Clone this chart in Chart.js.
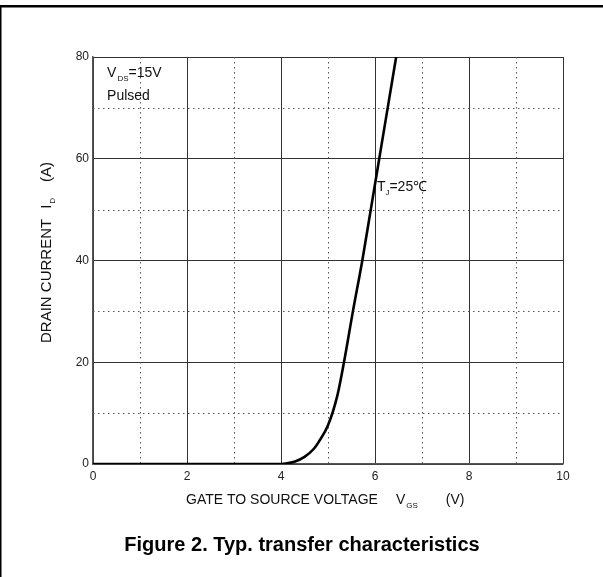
<!DOCTYPE html>
<html>
<head>
<meta charset="utf-8">
<script src="https://cdn.jsdelivr.net/npm/chart.js@4/dist/chart.umd.min.js"></script>
<style>
html, body { margin: 0; padding: 0; background: #fff; }
</style>
</head>
<body>
<canvas id="transfer_chart" width="603" height="577"></canvas>
<script>
// VGS (V) vs ID (A)
var vgs = [0, 3.9, 4.1, 4.3, 4.5, 4.7, 4.8, 5.0, 5.2, 5.34, 5.53, 5.73, 5.91, 6.09, 6.27, 6.45];
var drain_current = [0, 0, 0.1, 0.5, 1.4, 3.0, 4.3, 7.6, 13.5, 20, 30, 40, 50, 60, 70, 80];

var x_ticks = [0, 2, 4, 6, 8, 10];
var y_ticks = [0, 20, 40, 60, 80];
var x_minor = [1, 3, 5, 7, 9];
var y_minor = [10, 30, 50, 70];

var font_family = "Arial, 'Liberation Sans', sans-serif";

// draws text pieces, some as subscripts
function drawParts(ctx, x, y, parts, size){
    var cx = x;
    size = size || 14;
    for(var i = 0; i < parts.length; i++){
        var p = parts[i];
        if(p.sub){
            ctx.font = '8px ' + font_family;
            ctx.fillText(p.text, cx, y + 6);
        } else {
            ctx.font = size + 'px ' + font_family;
            ctx.fillText(p.text, cx, y);
        }
        cx += ctx.measureText(p.text).width + (p.gap || 0);
    }
}

var textPlugin = {
    id: 'textPlugin',
    beforeDatasetsDraw(chart){
        const ctx = chart.ctx;
        const xs = chart.scales.x;
        const ys = chart.scales.y;
        const area = chart.chartArea;
        ctx.save();
        ctx.strokeStyle = '#555';
        ctx.lineWidth = 1;
        ctx.setLineDash([1.5, 3.5]);
        for(var i in x_minor){
            var px = Math.round(xs.getPixelForValue(x_minor[i])) + 0.5;
            ctx.beginPath();
            ctx.moveTo(px, area.top);
            ctx.lineTo(px, area.bottom);
            ctx.stroke();
        }
        for(var j in y_minor){
            var py = Math.round(ys.getPixelForValue(y_minor[j])) + 0.5;
            ctx.beginPath();
            ctx.moveTo(area.left, py);
            ctx.lineTo(area.right, py);
            ctx.stroke();
        }
        ctx.restore();
    },
    afterDraw(chart){
        const ctx = chart.ctx;
        const xs = chart.scales.x;
        const ys = chart.scales.y;
        ctx.save();
        // outer frame (top and left only)
        ctx.fillStyle = '#000';
        ctx.fillRect(0, 5, 603, 2.5);
        ctx.fillRect(0, 5, 1.5, 572);

        ctx.fillStyle = '#111';
        ctx.textBaseline = 'middle';
        ctx.textAlign = 'left';

        // annotations
        drawParts(ctx, xs.getPixelForValue(0.3), ys.getPixelForValue(76.9), [
            {text: 'V', gap: 1}, {text: 'DS', sub: true}, {text: '=15V'}
        ]);
        ctx.font = '14px ' + font_family;
        ctx.fillText('Pulsed', xs.getPixelForValue(0.3), ys.getPixelForValue(72.3));
        drawParts(ctx, xs.getPixelForValue(6.04), ys.getPixelForValue(54.4), [
            {text: 'T', gap: 0}, {text: 'J', sub: true}, {text: '=25\u2103'}
        ]);

        // x axis title
        drawParts(ctx, 186, 500, [
            {text: 'GATE TO SOURCE VOLTAGE', gap: 18}, {text: 'V', gap: 1},
            {text: 'GS', sub: true, gap: 28}, {text: '(V)'}
        ]);

        // y axis title (rotated)
        ctx.translate(47, 343);
        ctx.rotate(-Math.PI / 2);
        drawParts(ctx, 0, 0, [
            {text: 'DRAIN CURRENT', gap: 10}, {text: 'I', gap: 1},
            {text: 'D', sub: true, gap: 16}, {text: '(A)'}
        ], 15);
        ctx.setTransform(1, 0, 0, 1, 0, 0);

        // figure caption
        ctx.textAlign = 'center';
        ctx.fillStyle = '#000';
        ctx.font = 'bold 20px ' + font_family;
        ctx.fillText('Figure 2. Typ. transfer characteristics', 302, 545);
        ctx.restore();
    }
};

const ctx = document.getElementById('transfer_chart');
var transfer_chart = new Chart(ctx, {
    type: 'line',
    data: {
        datasets: [{
            data: vgs.map((v, i) => ({x: v, y: drain_current[i]})),
            borderColor: '#000',
            borderWidth: 2.6,
            pointRadius: 0,
            fill: false,
            cubicInterpolationMode: 'monotone'
        }]
    },
    options: {
        responsive: false,
        animation: false,
        devicePixelRatio: 1,
        layout: {
            padding: {left: 0, right: 40, top: 57, bottom: 0}
        },
        scales: {
            x: {
                type: 'linear',
                min: 0,
                max: 10,
                afterBuildTicks: s => { s.ticks = x_ticks.map(v => ({value: v})); },
                afterFit: s => { s.height = 113; },
                grid: {
                    color: '#333',
                    lineWidth: 1,
                    drawTicks: false
                },
                border: { color: '#555', width: 1.5 },
                ticks: {
                    padding: 5,
                    color: '#222',
                    font: { family: font_family, size: 12 }
                }
            },
            y: {
                type: 'linear',
                min: 0,
                max: 80,
                afterBuildTicks: s => { s.ticks = y_ticks.map(v => ({value: v})); },
                afterFit: s => { s.width = 93; },
                grid: {
                    color: '#333',
                    lineWidth: 1,
                    drawTicks: false
                },
                border: { color: '#555', width: 1.5 },
                ticks: {
                    padding: 4,
                    color: '#222',
                    font: { family: font_family, size: 12 }
                }
            }
        },
        plugins: {
            legend: false,
            tooltip: { enabled: false }
        }
    },
    plugins: [textPlugin]
});
</script>
</body>
</html>
